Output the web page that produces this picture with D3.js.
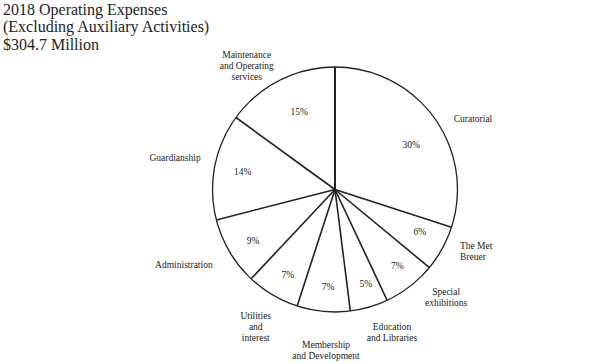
<!DOCTYPE html>
<html><head><meta charset="utf-8">
<script src="https://cdn.jsdelivr.net/npm/d3@7"></script>
<style>
html,body{margin:0;padding:0;background:#fff;}
svg{display:block;}
text{font-family:"Liberation Serif","DejaVu Serif",serif;fill:#222;}
</style></head>
<body>
<svg id="chart" width="616" height="363"></svg>
<script>
const titleLines = ["2018 Operating Expenses", "(Excluding Auxiliary Activities)", "$304.7 Million"];
const categories = [
  ["Curatorial"],
  ["The Met", "Breuer"],
  ["Special", "exhibitions"],
  ["Education", "and Libraries"],
  ["Membership", "and Development"],
  ["Utilities", "and", "interest"],
  ["Administration"],
  ["Guardianship"],
  ["Maintenance", "and Operating", "services"]
];
const values = [30, 6, 7, 5, 7, 7, 9, 14, 15];

// layout (label placement relative to each slice's mid-angle), not data
const catAngleNudge = [8.9, -4.8, -8, -5.5, -2.2, -0.5, 4, 0.3, -8.5];
const catRadius = [155, 151, 155, 154, 161, 158, 169, 163, 152];
const pctAngleNudge = [6, -2, -1.3, -1.8, -1.4, -1.9, -1.8, -0.3, 2];
const pctRadius = [88, 95, 99, 100, 99, 98, 97, 94, 85];

const svg = d3.select("#chart");
const cx = 335, cy = 189.5, R = 122.5;
const rad = Math.PI / 180;

// title
svg.append("g").selectAll("text").data(titleLines).join("text")
  .attr("x", 3)
  .attr("y", (d, i) => 15 + i * 17.3)
  .attr("font-size", 16)
  .text(d => d);

const pie = d3.pie().sort(null).value(d => d)(values);
const arc = d3.arc().innerRadius(0).outerRadius(R);

const g = svg.append("g").attr("transform", `translate(${cx},${cy})`);

g.selectAll("path").data(pie).join("path")
  .attr("d", arc)
  .attr("fill", "#fff")
  .attr("stroke", "none");

// radial separators
g.selectAll("line.sep").data(pie).join("line")
  .attr("class", "sep")
  .attr("x1", 0).attr("y1", 0)
  .attr("x2", d => R * Math.sin(d.startAngle))
  .attr("y2", d => -R * Math.cos(d.startAngle))
  .attr("stroke", "#222")
  .attr("stroke-width", (d, i) => i === 0 ? 2 : 1.6);

// outer circle
g.append("circle").attr("r", R).attr("fill", "none")
  .attr("stroke", "#222").attr("stroke-width", 1.3);

const polar = (d, i, nudge, radius) => {
  const a = (d.startAngle + d.endAngle) / 2 + nudge[i] * rad;
  return [radius[i] * Math.sin(a), -radius[i] * Math.cos(a)];
};

// percent labels
g.selectAll("text.pct").data(pie).join("text")
  .attr("class", "pct")
  .attr("text-anchor", "middle")
  .attr("dominant-baseline", "middle")
  .attr("font-size", 9.5)
  .attr("x", (d, i) => polar(d, i, pctAngleNudge, pctRadius)[0])
  .attr("y", (d, i) => polar(d, i, pctAngleNudge, pctRadius)[1])
  .text(d => d.value + "%");

// category labels
const lh = 11;
const lab = g.selectAll("text.cat").data(pie).join("text")
  .attr("class", "cat")
  .attr("font-size", 9.5)
  .attr("text-anchor", (d, i) => i === 1 ? "start" : "middle")
  .attr("transform", (d, i) => {
    let [x, y] = polar(d, i, catAngleNudge, catRadius);
    if (i === 1) x -= 13;
    const n = categories[i].length;
    y -= (n - 1) * lh / 2;
    return `translate(${x},${y})`;
  });
lab.selectAll("tspan").data((d, i) => categories[i]).join("tspan")
  .attr("x", 0)
  .attr("dy", (t, j) => j === 0 ? "0.35em" : lh)
  .text(t => t);
</script>
</body></html>
